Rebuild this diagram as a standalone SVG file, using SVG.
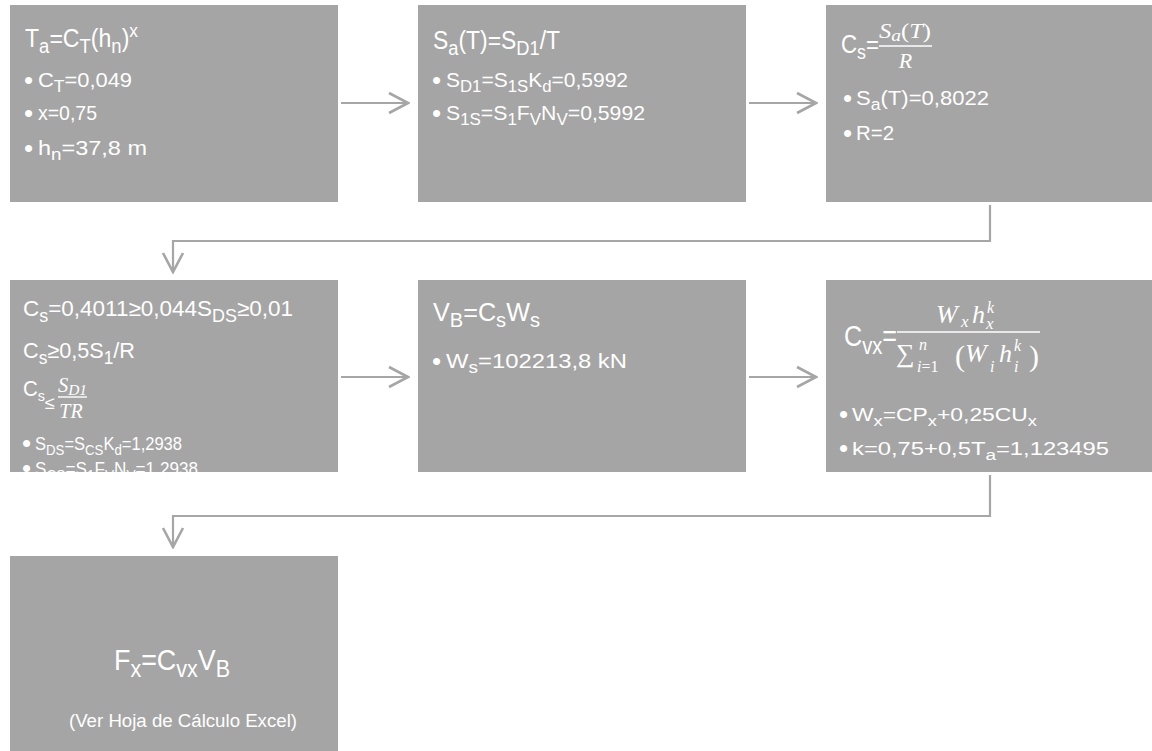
<svg xmlns="http://www.w3.org/2000/svg" width="1152" height="751" viewBox="0 0 1152 751">
<style>
.box{fill:#a5a5a5}
.t{font-family:"Liberation Sans",Arial,sans-serif;fill:#ffffff}
.m{font-family:"Liberation Serif","Times New Roman",serif;font-style:italic;fill:#ffffff}
.up{font-style:normal}
.sub{font-size:80%;baseline-shift:-0.32em}
.sup{font-size:75%;baseline-shift:0.55em}
.b{font-size:26px}
.conn{fill:none;stroke:#a6a6a6;stroke-width:2.2}
.bar{stroke:#ffffff;stroke-width:1.4}
</style>
<defs>
<marker id="chev" viewBox="-22 -12 24 24" refX="0" refY="0" markerWidth="24" markerHeight="24" markerUnits="userSpaceOnUse" orient="auto">
<path d="M-19,-10 L0,0 L-19,10" fill="none" stroke="#a6a6a6" stroke-width="2.6"/>
</marker>
<clipPath id="clip4"><rect x="10" y="280" width="328" height="192"/></clipPath>
</defs>

<g id="connectors">
<path class="conn" d="M341,103 H408" marker-end="url(#chev)"/>
<path class="conn" d="M749,103 H816" marker-end="url(#chev)"/>
<path class="conn" d="M990,205 V241 H173 V272" marker-end="url(#chev)"/>
<path class="conn" d="M341,377 H408" marker-end="url(#chev)"/>
<path class="conn" d="M749,377 H816" marker-end="url(#chev)"/>
<path class="conn" d="M990,475 V516 H173 V547" marker-end="url(#chev)"/>
</g>

<g id="n1">
<rect class="box" x="10" y="5" width="328" height="197"/>
<text class="t" x="25" y="47" font-size="25" textLength="113" lengthAdjust="spacingAndGlyphs">T<tspan class="sub">a</tspan>=C<tspan class="sub">T</tspan>(h<tspan class="sub">n</tspan>)<tspan class="sup">x</tspan></text>
<text class="t b" x="24" y="89">•</text>
<text class="t" x="38" y="87" font-size="21" textLength="94" lengthAdjust="spacingAndGlyphs">C<tspan class="sub">T</tspan>=0,049</text>
<text class="t b" x="24" y="122">•</text>
<text class="t" x="38" y="120" font-size="21" textLength="59" lengthAdjust="spacingAndGlyphs">x=0,75</text>
<text class="t b" x="24" y="157">•</text>
<text class="t" x="38" y="155" font-size="21" textLength="109" lengthAdjust="spacingAndGlyphs">h<tspan class="sub">n</tspan>=37,8 m</text>
</g>

<g id="n2">
<rect class="box" x="418" y="5" width="328" height="197"/>
<text class="t" x="433" y="49" font-size="25" textLength="127" lengthAdjust="spacingAndGlyphs">S<tspan class="sub">a</tspan>(T)=S<tspan class="sub">D1</tspan>/T</text>
<text class="t b" x="432" y="89">•</text>
<text class="t" x="446" y="87" font-size="21" textLength="182" lengthAdjust="spacingAndGlyphs">S<tspan class="sub">D1</tspan>=S<tspan class="sub">1S</tspan>K<tspan class="sub">d</tspan>=0,5992</text>
<text class="t b" x="432" y="122">•</text>
<text class="t" x="446" y="120" font-size="21" textLength="199" lengthAdjust="spacingAndGlyphs">S<tspan class="sub">1S</tspan>=S<tspan class="sub">1</tspan>F<tspan class="sub">V</tspan>N<tspan class="sub">V</tspan>=0,5992</text>
</g>

<g id="n3">
<rect class="box" x="826" y="5" width="328" height="197"/>
<text class="t" x="841" y="53" font-size="25" textLength="38" lengthAdjust="spacingAndGlyphs">C<tspan class="sub">s</tspan>=</text>
<text class="m" x="879" y="38" font-size="22" textLength="52" lengthAdjust="spacingAndGlyphs">S<tspan font-size="80%" baseline-shift="-0.15em">a</tspan><tspan class="up">(</tspan>T<tspan class="up">)</tspan></text>
<line class="bar" x1="879" y1="46" x2="932" y2="46"/>
<text class="m" x="905.5" y="68" font-size="22" text-anchor="middle">R</text>
<text class="t b" x="843" y="107">•</text>
<text class="t" x="856" y="105" font-size="21" textLength="133" lengthAdjust="spacingAndGlyphs">S<tspan class="sub">a</tspan>(T)=0,8022</text>
<text class="t b" x="843" y="142">•</text>
<text class="t" x="856" y="140" font-size="21" textLength="38" lengthAdjust="spacingAndGlyphs">R=2</text>
</g>

<g id="n4">
<rect class="box" x="10" y="280" width="328" height="192"/>
<g clip-path="url(#clip4)">
<text class="t" x="23" y="316" font-size="22" textLength="270" lengthAdjust="spacingAndGlyphs">C<tspan class="sub">s</tspan>=0,4011≥0,044S<tspan class="sub">DS</tspan>≥0,01</text>
<text class="t" x="23" y="358" font-size="22" textLength="112" lengthAdjust="spacingAndGlyphs">C<tspan class="sub">s</tspan>≥0,5S<tspan class="sub">1</tspan>/R</text>
<text class="t" x="23" y="396" font-size="22" textLength="22" lengthAdjust="spacingAndGlyphs">C<tspan font-size="70%" baseline-shift="-0.32em">s</tspan></text>
<text class="t" x="45" y="409" font-size="18">≤</text>
<text class="m" x="58" y="392" font-size="20" textLength="29" lengthAdjust="spacingAndGlyphs">S<tspan font-size="75%" baseline-shift="-0.2em">D1</tspan></text>
<line class="bar" x1="58" y1="397" x2="87" y2="397"/>
<text class="m" x="71" y="418" font-size="20" text-anchor="middle">TR</text>
<text class="t b" x="22" y="452" font-size="22">•</text>
<text class="t" x="35" y="450" font-size="18" textLength="147" lengthAdjust="spacingAndGlyphs">S<tspan class="sub">DS</tspan>=S<tspan class="sub">CS</tspan>K<tspan class="sub">d</tspan>=1,2938</text>
<text class="t b" x="22" y="477" font-size="22">•</text>
<text class="t" x="35" y="475" font-size="18" textLength="163" lengthAdjust="spacingAndGlyphs">S<tspan class="sub">CS</tspan>=S<tspan class="sub">1</tspan>F<tspan class="sub">V</tspan>N<tspan class="sub">V</tspan>=1,2938</text>
</g>
</g>

<g id="n5">
<rect class="box" x="418" y="280" width="328" height="192"/>
<text class="t" x="433" y="321" font-size="25" textLength="107" lengthAdjust="spacingAndGlyphs">V<tspan class="sub">B</tspan>=C<tspan class="sub">s</tspan>W<tspan class="sub">s</tspan></text>
<text class="t b" x="432" y="370">•</text>
<text class="t" x="446" y="368" font-size="21" textLength="181" lengthAdjust="spacingAndGlyphs">W<tspan class="sub">s</tspan>=102213,8 kN</text>
</g>

<g id="n6">
<rect class="box" x="826" y="280" width="328" height="192"/>
<text class="t" x="844" y="346" font-size="30" textLength="53" lengthAdjust="spacingAndGlyphs">C<tspan class="sub">vx</tspan>=</text>
<text class="m" x="936" y="323" font-size="26">W</text>
<text class="m" x="961" y="327" font-size="17">x</text>
<text class="m" x="972" y="323" font-size="26">h</text>
<text class="m" x="987" y="313" font-size="16">k</text>
<text class="m" x="986" y="329" font-size="17">x</text>
<line class="bar" x1="897" y1="332" x2="1040" y2="332"/>
<text class="m up" x="896" y="362" font-size="26">∑</text>
<text class="m" x="919" y="350" font-size="16">n</text>
<text class="m" x="917" y="372" font-size="16">i<tspan class="up">=1</tspan></text>
<text class="m up" x="955" y="366" font-size="30">(</text>
<text class="m" x="965" y="362" font-size="26">W</text>
<text class="m" x="990" y="372" font-size="16">i</text>
<text class="m" x="999" y="362" font-size="26">h</text>
<text class="m" x="1014" y="351" font-size="16">k</text>
<text class="m" x="1014" y="372" font-size="16">i</text>
<text class="m up" x="1029" y="366" font-size="30">)</text>
<text class="t b" x="839" y="423" font-size="24">•</text>
<text class="t" x="852" y="421" font-size="19" textLength="185" lengthAdjust="spacingAndGlyphs">W<tspan class="sub">x</tspan>=CP<tspan class="sub">x</tspan>+0,25CU<tspan class="sub">x</tspan></text>
<text class="t b" x="839" y="457" font-size="24">•</text>
<text class="t" x="852" y="455" font-size="19" textLength="257" lengthAdjust="spacingAndGlyphs">k=0,75+0,5T<tspan class="sub">a</tspan>=1,123495</text>
</g>

<g id="n7">
<rect class="box" x="10" y="556" width="328" height="197"/>
<text class="t" x="114" y="670" font-size="29" textLength="116" lengthAdjust="spacingAndGlyphs">F<tspan class="sub">x</tspan>=C<tspan class="sub">vx</tspan>V<tspan class="sub">B</tspan></text>
<text class="t" x="69" y="727" font-size="18" textLength="228" lengthAdjust="spacingAndGlyphs">(Ver Hoja de Cálculo Excel)</text>
</g>
</svg>
